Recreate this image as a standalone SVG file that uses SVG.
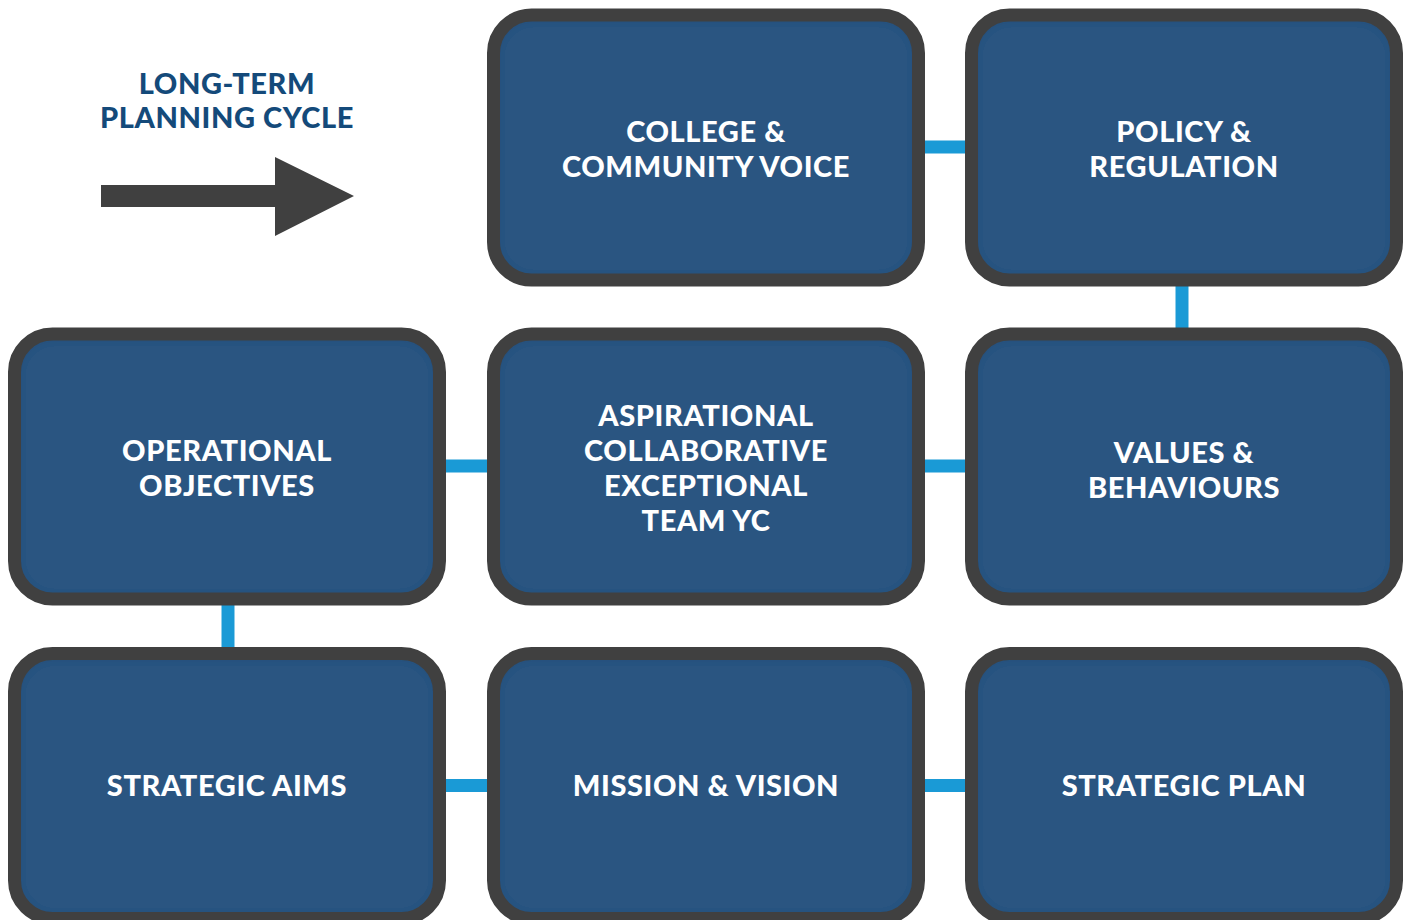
<svg xmlns="http://www.w3.org/2000/svg" width="1408" height="920" viewBox="0 0 1408 920">
  <defs>
    <style>
      .fill { fill: #2a5581; filter: url(#inset); }
      .border { fill: none; stroke: #404040; stroke-width: 13; }
      .label { font-family: "Lato", "Liberation Sans", sans-serif; font-weight: 900; font-size: 29px; fill: #ffffff; text-anchor: middle; letter-spacing: 0.6px; }
      .title { font-family: "Lato", "Liberation Sans", sans-serif; font-weight: 900; font-size: 29px; fill: #144a7a; text-anchor: middle; letter-spacing: 0.6px; }
      .conn { stroke: #1a9ad6; stroke-width: 13; fill: none; }
    </style>
    <filter id="inset" x="-5%" y="-5%" width="110%" height="110%">
      <feComponentTransfer in="SourceAlpha" result="inv">
        <feFuncA type="table" tableValues="1 0"/>
      </feComponentTransfer>
      <feGaussianBlur in="inv" stdDeviation="5" result="blur"/>
      <feOffset in="blur" dx="0" dy="1" result="off"/>
      <feFlood flood-color="#142c48" flood-opacity="0.75" result="col"/>
      <feComposite in="col" in2="off" operator="in" result="sh"/>
      <feComposite in="sh" in2="SourceAlpha" operator="in" result="inner"/>
      <feMerge>
        <feMergeNode in="SourceGraphic"/>
        <feMergeNode in="inner"/>
      </feMerge>
    </filter>
  </defs>
  <rect width="1408" height="920" fill="#ffffff"/>

  <g id="connectors">
    <line class="conn" x1="920" y1="147" x2="970" y2="147"/>
    <line class="conn" x1="1182" y1="280" x2="1182" y2="334"/>
    <line class="conn" x1="440" y1="466" x2="493" y2="466"/>
    <line class="conn" x1="920" y1="466" x2="970" y2="466"/>
    <line class="conn" x1="228" y1="600" x2="228" y2="653"/>
    <line class="conn" x1="440" y1="785.5" x2="493" y2="785.5"/>
    <line class="conn" x1="920" y1="785.5" x2="970" y2="785.5"/>
  </g>

  <g id="title">
    <text class="title" x="227" y="94">LONG-TERM</text>
    <text class="title" x="227" y="128">PLANNING CYCLE</text>
    <polygon fill="#404040" points="101,185 275,185 275,157 354,196 275,236 275,207 101,207"/>
  </g>

  <g id="college-community-voice">
    <rect class="fill" x="493.5" y="15" width="425" height="265" rx="38"/>
    <rect class="border" x="493.5" y="15" width="425" height="265" rx="38"/>
    <text class="label" x="706" y="141.5">COLLEGE &amp;</text>
    <text class="label" x="706" y="176.5">COMMUNITY VOICE</text>
  </g>

  <g id="policy-regulation">
    <rect class="fill" x="971.5" y="15" width="425" height="265" rx="38"/>
    <rect class="border" x="971.5" y="15" width="425" height="265" rx="38"/>
    <text class="label" x="1184" y="141.5">POLICY &amp;</text>
    <text class="label" x="1184" y="176.5">REGULATION</text>
  </g>

  <g id="operational-objectives">
    <rect class="fill" x="14.5" y="334" width="425" height="265" rx="38"/>
    <rect class="border" x="14.5" y="334" width="425" height="265" rx="38"/>
    <text class="label" x="227" y="460.5">OPERATIONAL</text>
    <text class="label" x="227" y="495.5">OBJECTIVES</text>
  </g>

  <g id="aspirational-team-yc">
    <rect class="fill" x="493.5" y="334" width="425" height="265" rx="38"/>
    <rect class="border" x="493.5" y="334" width="425" height="265" rx="38"/>
    <text class="label" x="706" y="425.5">ASPIRATIONAL</text>
    <text class="label" x="706" y="460.5">COLLABORATIVE</text>
    <text class="label" x="706" y="495.5">EXCEPTIONAL</text>
    <text class="label" x="706" y="530.5">TEAM YC</text>
  </g>

  <g id="values-behaviours">
    <rect class="fill" x="971.5" y="334" width="425" height="265" rx="38"/>
    <rect class="border" x="971.5" y="334" width="425" height="265" rx="38"/>
    <text class="label" x="1184" y="462.5">VALUES &amp;</text>
    <text class="label" x="1184" y="497.5">BEHAVIOURS</text>
  </g>

  <g id="strategic-aims">
    <rect class="fill" x="14.5" y="653.5" width="425" height="265" rx="38"/>
    <rect class="border" x="14.5" y="653.5" width="425" height="265" rx="38"/>
    <text class="label" x="227" y="796">STRATEGIC AIMS</text>
  </g>

  <g id="mission-vision">
    <rect class="fill" x="493.5" y="653.5" width="425" height="265" rx="38"/>
    <rect class="border" x="493.5" y="653.5" width="425" height="265" rx="38"/>
    <text class="label" x="706" y="796">MISSION &amp; VISION</text>
  </g>

  <g id="strategic-plan">
    <rect class="fill" x="971.5" y="653.5" width="425" height="265" rx="38"/>
    <rect class="border" x="971.5" y="653.5" width="425" height="265" rx="38"/>
    <text class="label" x="1184" y="796">STRATEGIC PLAN</text>
  </g>
</svg>
